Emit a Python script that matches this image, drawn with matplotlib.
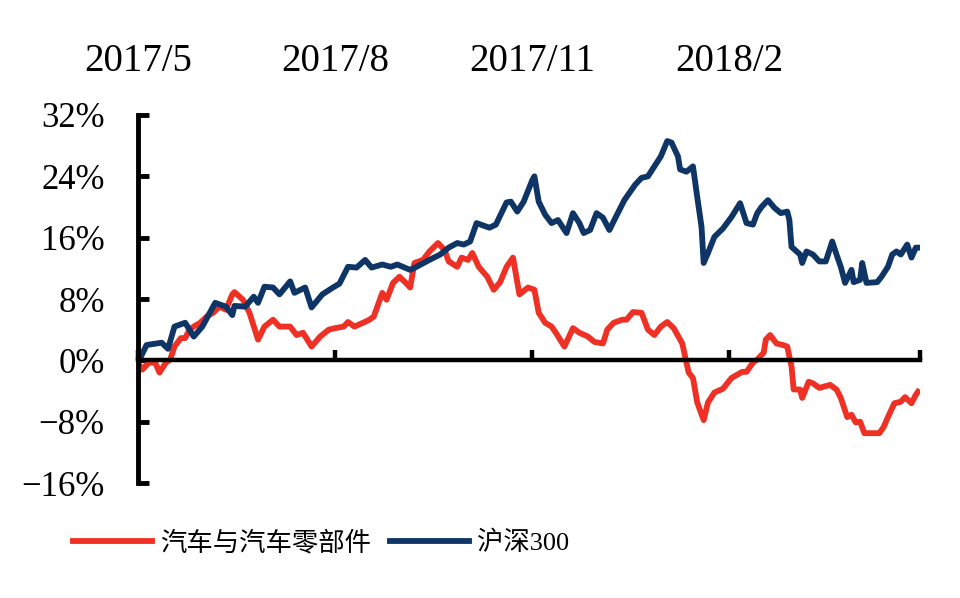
import pandas as pd
import matplotlib
matplotlib.use('Agg')
import matplotlib.pyplot as plt
from matplotlib.ticker import FuncFormatter

plt.rcParams['font.family'] = ['Liberation Serif', 'Noto Sans CJK SC', 'DejaVu Sans']

# 汽车与汽车零部件 (red)
auto_dates = ['2017-05-01', '2017-05-03', '2017-05-06', '2017-05-09', '2017-05-11', '2017-05-14',
              '2017-05-16', '2017-05-18', '2017-05-21', '2017-05-23', '2017-05-25', '2017-05-27',
              '2017-05-30', '2017-06-02', '2017-06-05', '2017-06-08', '2017-06-11', '2017-06-14',
              '2017-06-15', '2017-06-19', '2017-06-22', '2017-06-26', '2017-06-29', '2017-07-03',
              '2017-07-06', '2017-07-11', '2017-07-14', '2017-07-17', '2017-07-21', '2017-07-25',
              '2017-07-29', '2017-08-01', '2017-08-05', '2017-08-07', '2017-08-10', '2017-08-14',
              '2017-08-17', '2017-08-19', '2017-08-23', '2017-08-25', '2017-08-28', '2017-08-31',
              '2017-09-03', '2017-09-05', '2017-09-07', '2017-09-11', '2017-09-14', '2017-09-18',
              '2017-09-21', '2017-09-23', '2017-09-27', '2017-09-29', '2017-10-02', '2017-10-04',
              '2017-10-07', '2017-10-11', '2017-10-14', '2017-10-17', '2017-10-20', '2017-10-23',
              '2017-10-26', '2017-10-30', '2017-11-02', '2017-11-04', '2017-11-07', '2017-11-10',
              '2017-11-12', '2017-11-16', '2017-11-20', '2017-11-23', '2017-11-27', '2017-11-30',
              '2017-12-04', '2017-12-06', '2017-12-09', '2017-12-13', '2017-12-15', '2017-12-18',
              '2017-12-22', '2017-12-25', '2017-12-28', '2017-12-31', '2018-01-03', '2018-01-06',
              '2018-01-10', '2018-01-12', '2018-01-13', '2018-01-15', '2018-01-17', '2018-01-20',
              '2018-01-22', '2018-01-25', '2018-01-29', '2018-02-02', '2018-02-07', '2018-02-09',
              '2018-02-12', '2018-02-14', '2018-02-17', '2018-02-18', '2018-02-20', '2018-02-23',
              '2018-02-26', '2018-02-28', '2018-03-02', '2018-03-03', '2018-03-06', '2018-03-07',
              '2018-03-10', '2018-03-12', '2018-03-15', '2018-03-20', '2018-03-23', '2018-03-25',
              '2018-03-28', '2018-03-30', '2018-04-01', '2018-04-03', '2018-04-05', '2018-04-08',
              '2018-04-12', '2018-04-14', '2018-04-16', '2018-04-19', '2018-04-22', '2018-04-24',
              '2018-04-27', '2018-04-29', '2018-04-30']
auto_vals = [-0.3, -1.2, -0.3, -0.3, -1.6, -0.3,
             0.1, 1.8, 2.9, 2.9, 4.0, 4.4,
             4.9, 5.7, 6.2, 7.0, 6.6, 8.6,
             8.9, 7.9, 6.2, 2.7, 4.4, 5.3,
             4.4, 4.4, 3.3, 3.6, 1.8, 3.1,
             4.0, 4.2, 4.4, 5.0, 4.4, 4.9,
             5.3, 5.7, 8.8, 7.9, 10.1, 10.9,
             10.1, 9.5, 12.7, 13.1, 14.2, 15.3,
             14.4, 12.9, 12.2, 13.4, 13.1, 14.0,
             12.2, 10.9, 9.2, 10.2, 12.2, 13.4,
             8.6, 9.5, 9.2, 6.2, 4.9, 4.4,
             3.6, 1.8, 4.2, 3.6, 3.1, 2.4,
             2.2, 4.0, 4.9, 5.3, 5.3, 6.3,
             6.2, 4.0, 3.3, 4.4, 5.0, 4.2,
             2.2, -0.3, -1.6, -2.3, -5.5, -7.8,
             -5.5, -4.2, -3.7, -2.3, -1.5, -1.5,
             -0.3, 0.1, 1.0, 2.7, 3.3, 2.2,
             2.0, 1.8, -0.8, -3.8, -3.8, -4.9,
             -2.8, -3.0, -3.6, -3.2, -3.8, -4.9,
             -7.4, -7.1, -8.1, -8.0, -9.5, -9.5,
             -9.5, -8.7, -7.4, -5.6, -5.4, -4.8,
             -5.6, -4.5, -4.1]

# 沪深300 (navy)
hs_dates = ['2017-05-02', '2017-05-05', '2017-05-12', '2017-05-15', '2017-05-18', '2017-05-23',
            '2017-05-27', '2017-05-31', '2017-06-06', '2017-06-11', '2017-06-14', '2017-06-15',
            '2017-06-20', '2017-06-24', '2017-06-26', '2017-06-29', '2017-07-03', '2017-07-06',
            '2017-07-11', '2017-07-13', '2017-07-18', '2017-07-21', '2017-07-26', '2017-07-31',
            '2017-08-03', '2017-08-07', '2017-08-11', '2017-08-15', '2017-08-18', '2017-08-23',
            '2017-08-27', '2017-08-30', '2017-09-05', '2017-09-08', '2017-09-14', '2017-09-19',
            '2017-09-23', '2017-09-27', '2017-09-30', '2017-10-03', '2017-10-06', '2017-10-12',
            '2017-10-15', '2017-10-20', '2017-10-22', '2017-10-25', '2017-10-28', '2017-11-01',
            '2017-11-02', '2017-11-04', '2017-11-07', '2017-11-10', '2017-11-13', '2017-11-17',
            '2017-11-20', '2017-11-23', '2017-11-25', '2017-11-28', '2017-12-01', '2017-12-04',
            '2017-12-07', '2017-12-10', '2017-12-14', '2017-12-19', '2017-12-22', '2017-12-25',
            '2017-12-28', '2017-12-31', '2018-01-03', '2018-01-05', '2018-01-08', '2018-01-09',
            '2018-01-12', '2018-01-15', '2018-01-17', '2018-01-19', '2018-01-20', '2018-01-22',
            '2018-01-25', '2018-01-29', '2018-02-02', '2018-02-06', '2018-02-09', '2018-02-12',
            '2018-02-14', '2018-02-16', '2018-02-19', '2018-02-22', '2018-02-25', '2018-02-28',
            '2018-03-01', '2018-03-02', '2018-03-06', '2018-03-07', '2018-03-09', '2018-03-12',
            '2018-03-15', '2018-03-18', '2018-03-21', '2018-03-23', '2018-03-25', '2018-03-27',
            '2018-03-30', '2018-03-31', '2018-04-03', '2018-04-04', '2018-04-06', '2018-04-11',
            '2018-04-13', '2018-04-16', '2018-04-18', '2018-04-20', '2018-04-22', '2018-04-25',
            '2018-04-27', '2018-04-29', '2018-04-30']
hs_vals = [0.3, 2.0, 2.3, 1.5, 4.4, 4.9,
           3.1, 4.4, 7.5, 7.0, 5.9, 7.1,
           7.0, 8.3, 7.5, 9.6, 9.5, 8.6,
           10.3, 8.8, 9.5, 6.9, 8.6, 9.5,
           10.0, 12.2, 12.1, 13.1, 12.1, 12.5,
           12.2, 12.5, 11.8, 12.2, 13.1, 13.8,
           14.7, 15.3, 15.1, 15.5, 17.9, 17.3,
           17.7, 20.6, 20.7, 19.4, 20.7, 23.5,
           24.0, 20.7, 19.0, 17.9, 18.3, 16.6,
           19.2, 17.9, 16.6, 17.0, 19.2, 18.6,
           17.0, 18.7, 20.9, 22.9, 23.8, 24.0,
           25.3, 26.6, 28.6, 28.4, 26.6, 24.9,
           24.6, 25.3, 21.3, 17.4, 12.7, 14.0,
           16.1, 17.2, 18.7, 20.5, 17.9, 17.7,
           19.2, 20.0, 20.9, 19.9, 19.2, 19.4,
           18.3, 14.8, 13.8, 12.7, 14.2, 13.8,
           12.9, 12.9, 15.5, 13.8, 12.2, 10.1,
           11.8, 10.2, 10.5, 12.7, 10.1, 10.2,
           10.9, 12.2, 13.8, 14.2, 13.8, 15.1,
           13.4, 14.7, 14.7]

series_names = ['汽车与汽车零部件', '沪深300']
series_colors = ['#EE3124', '#0E3565']

tick_dates = ['2017-05-01', '2017-08-01', '2017-11-01', '2018-02-01', '2018-05-01']
label_dates = ['2017-05-01', '2017-08-01', '2017-11-01', '2018-02-01']
label_texts = ['2017/5', '2017/8', '2017/11', '2018/2']
y_ticks = [-16, -8, 0, 8, 16, 24, 32]

fig = plt.figure(figsize=(9.6, 5.98), dpi=100)
ax = fig.add_axes([0.1438, 0.1923, 0.8146, 0.6154])

ax.plot(pd.to_datetime(auto_dates), auto_vals, color=series_colors[0], lw=4.2,
        solid_joinstyle='round', label=series_names[0])
ax.plot(pd.to_datetime(hs_dates), hs_vals, color=series_colors[1], lw=4.2,
        solid_joinstyle='round', label=series_names[1])

ax.set_xlim(pd.Timestamp('2017-05-01'), pd.Timestamp('2018-05-01'))
ax.set_ylim(-16, 32)

# spines: y axis on the left, x axis through zero
ax.spines['top'].set_visible(False)
ax.spines['right'].set_visible(False)
ax.spines['bottom'].set_position(('data', 0))
ax.spines['bottom'].set_linewidth(3.2)
ax.spines['left'].set_linewidth(3.5)

# ticks
ax.set_xticks(pd.to_datetime(tick_dates))
ax.tick_params(axis='x', direction='in', length=7, width=3.2, labelbottom=False)
ax.set_yticks(y_ticks)
ax.yaxis.set_major_formatter(FuncFormatter(lambda v, p: f'{v:.0f}%'.replace('-', '\u2212')))
ax.tick_params(axis='y', direction='in', length=8, width=3.5, pad=24, labelsize=25)

# date labels along the top
secax = ax.secondary_xaxis('top')
secax.set_xticks(pd.to_datetime(label_dates))
secax.set_xticklabels(label_texts)
secax.tick_params(length=0, pad=25, labelsize=28)
secax.spines['top'].set_visible(False)

fig.legend(loc='center left', bbox_to_anchor=(0.076, 0.092), ncol=2, frameon=False,
           fontsize=19, handlelength=3.0, handletextpad=0.3, columnspacing=0.7,
           borderpad=0, borderaxespad=0)

plt.savefig('out.png', dpi=100)
